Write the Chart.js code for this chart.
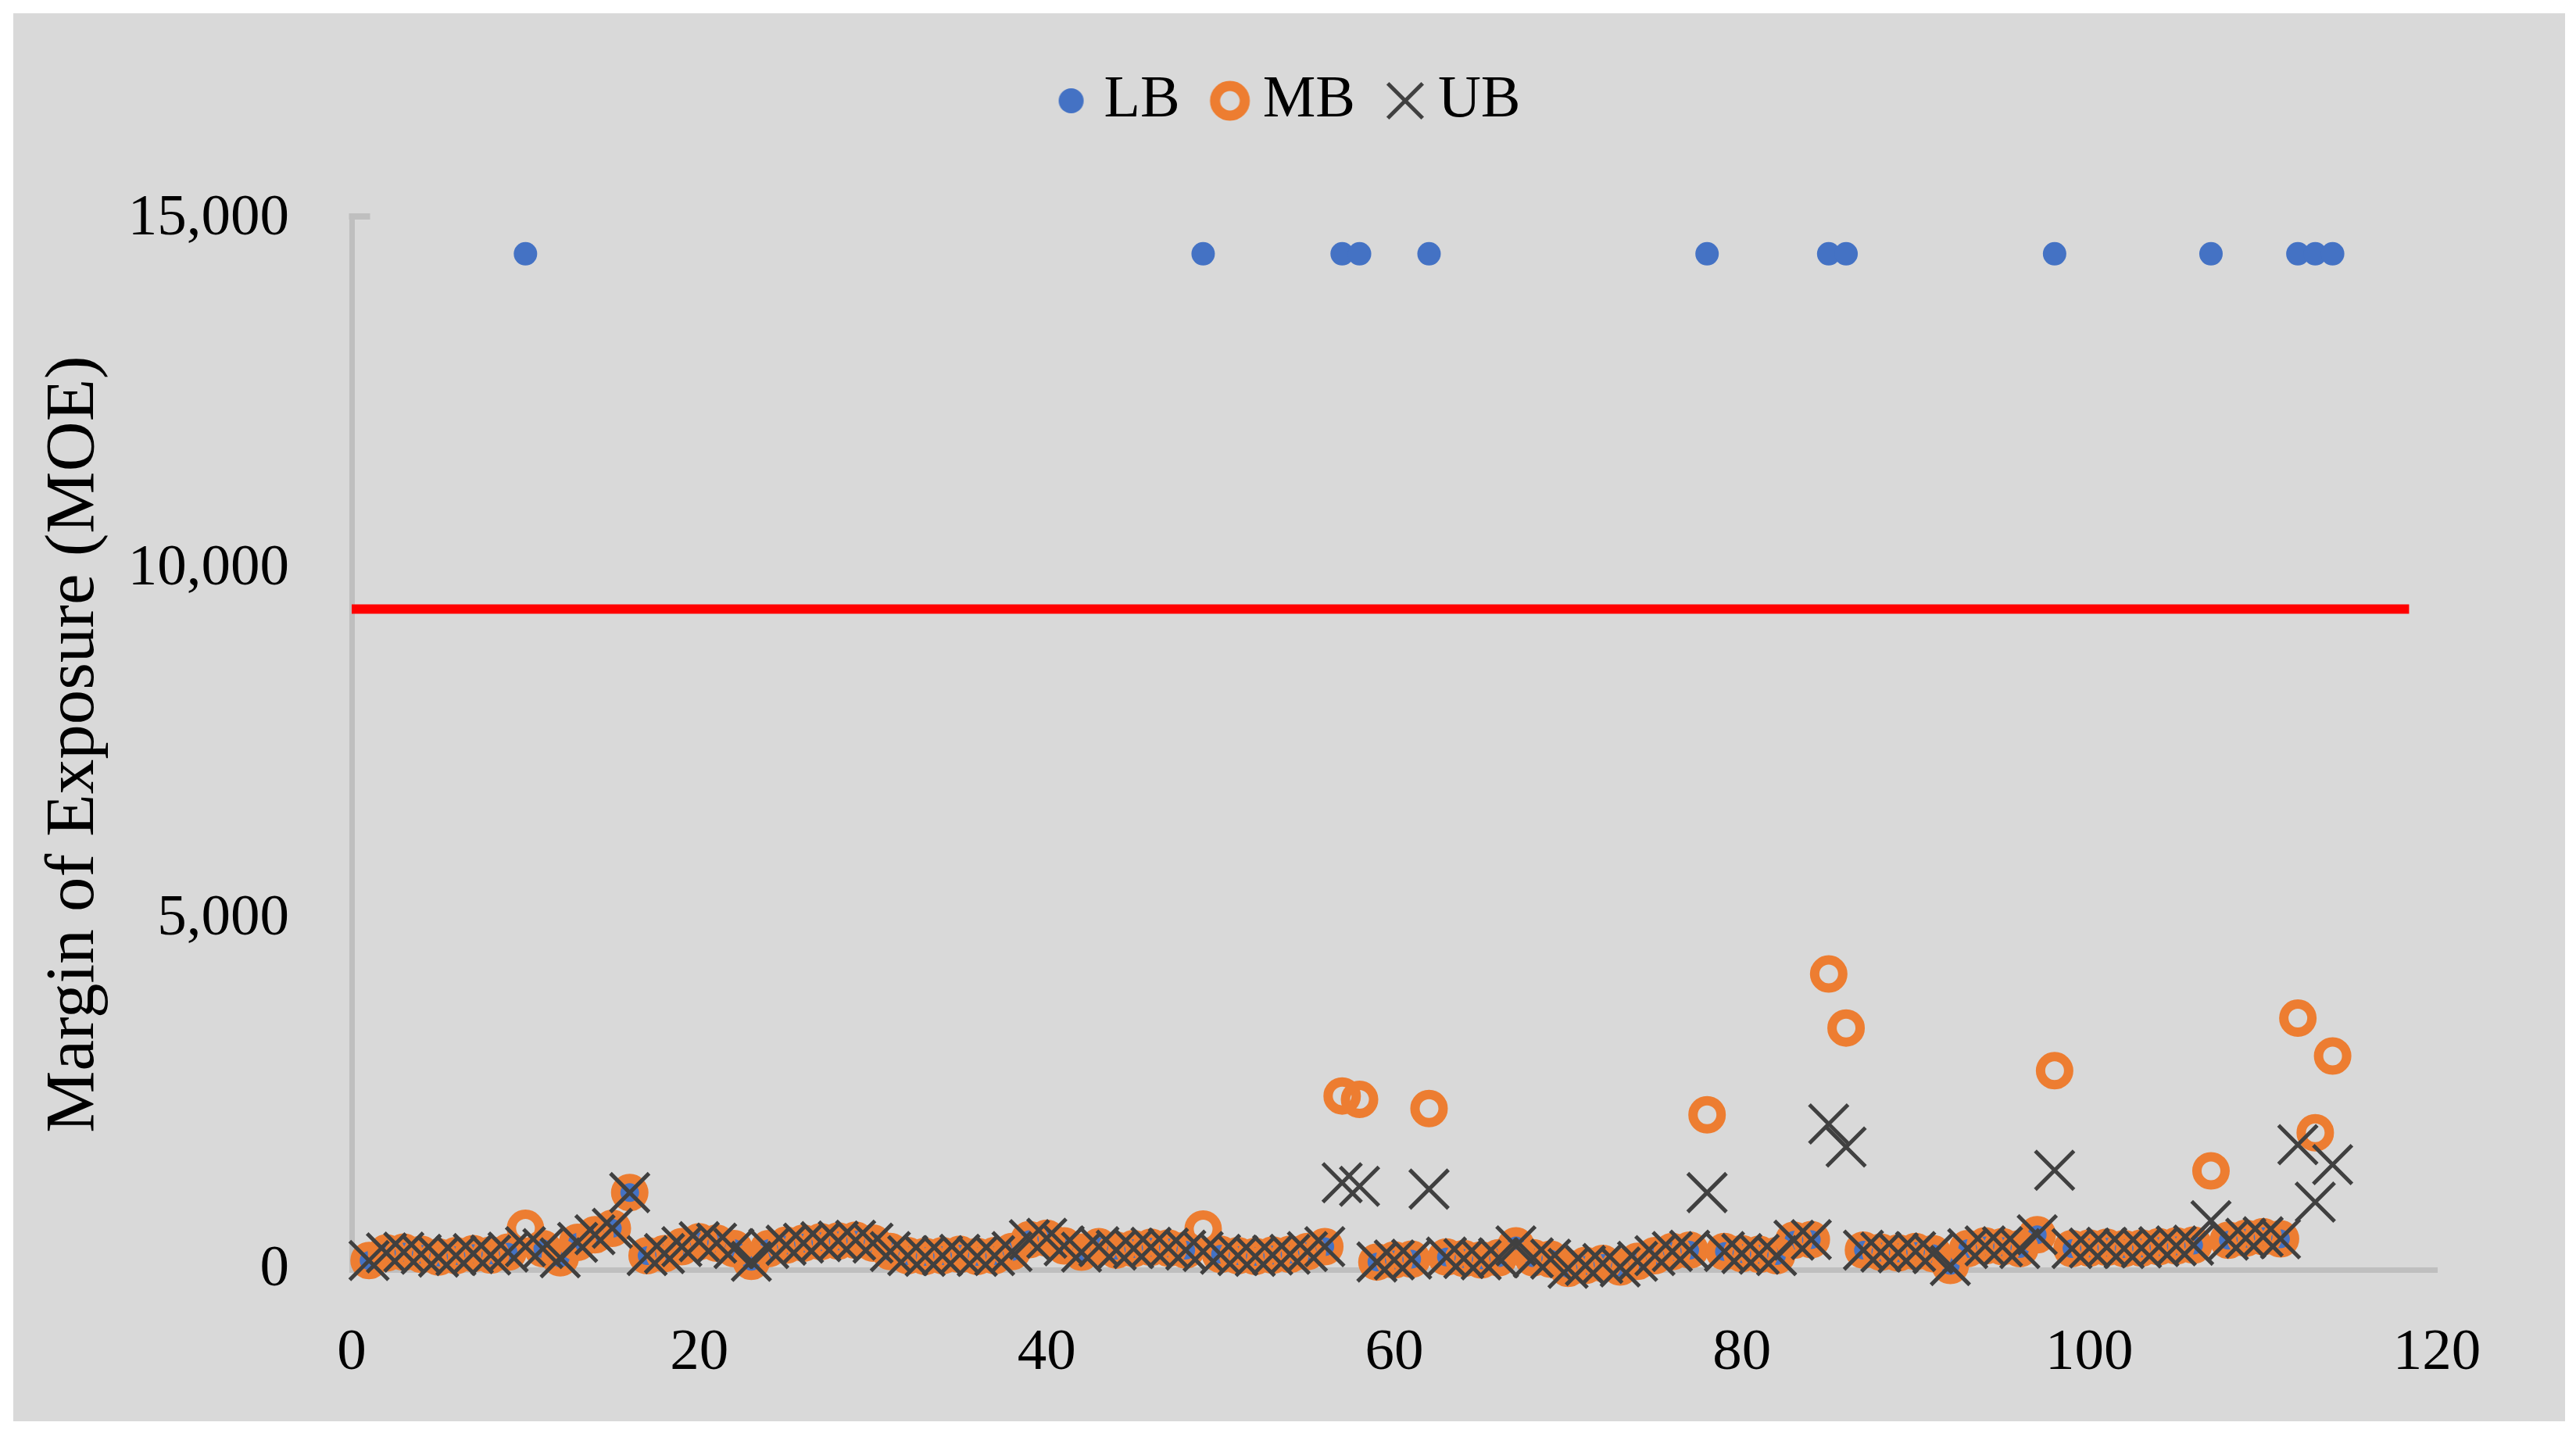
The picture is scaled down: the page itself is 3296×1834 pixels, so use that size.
<!DOCTYPE html>
<html><head><meta charset="utf-8">
<script src="https://cdn.jsdelivr.net/npm/chart.js@4.4.1/dist/chart.umd.min.js"></script>
<style>
html,body{margin:0;padding:0;background:#ffffff;overflow:hidden;}
#bg{position:absolute;left:17px;top:17px;width:3265px;height:1802px;background:#d9d9d9;}
#c{position:absolute;left:0;top:0;}
</style></head><body>
<div id="bg"></div>
<canvas id="c" width="3296" height="1834"></canvas>
<script>
// ---- data ----
const sampleIds = [1,2,3,4,5,6,7,8,9,10,11,12,13,14,15,16,17,18,19,20,21,22,23,24,25,26,27,28,29,30,31,32,33,34,35,36,37,38,39,40,41,42,43,44,45,46,47,48,49,50,51,52,53,54,55,56,57,58,59,60,61,62,63,64,65,66,67,68,69,70,71,72,73,74,75,76,77,78,79,80,81,82,83,84,85,86,87,88,89,90,91,92,93,94,95,96,97,98,99,100,101,102,103,104,105,106,107,108,109,110,111,112,113,114];
const LB = [130,240,250,220,180,200,230,210,250,14500,
  300,170,390,500,590,1100,200,230,330,400,
  380,300,120,300,350,380,400,410,420,380,
  260,200,190,200,220,190,200,260,430,450,
  340,250,330,280,300,320,310,280,14500,220,
  200,190,210,220,260,330,14500,14500,110,140,
  150,14500,180,160,140,170,340,170,150,20,
  60,90,40,120,200,260,280,14500,260,230,
  220,200,420,430,14500,14500,280,250,240,260,
  230,60,300,340,330,300,500,14500,300,310,
  320,300,310,330,340,350,14500,420,450,470,
  440,14500,14500,14500];
const MB = [130,240,250,220,180,200,230,210,250,590,
  300,170,390,500,590,1100,200,230,330,400,
  380,300,120,300,350,380,400,410,420,380,
  260,200,190,200,220,190,200,260,430,450,
  340,250,330,280,300,320,310,280,580,220,
  200,190,210,220,260,330,2480,2430,110,140,
  150,2300,180,160,140,170,340,170,150,20,
  60,90,40,120,200,260,280,2210,260,230,
  220,200,420,430,4220,3450,280,250,240,260,
  230,60,300,340,330,300,500,2840,300,310,
  320,300,310,330,340,350,1410,420,450,470,
  440,3590,1955,3050];
const UB = [130,240,250,220,180,200,230,210,250,330,
  300,170,390,500,590,1100,200,230,330,400,
  380,300,120,300,350,380,400,410,420,380,
  260,200,190,200,220,190,200,260,430,450,
  340,250,330,280,300,320,310,280,260,220,
  200,190,210,220,260,330,1240,1190,110,140,
  150,1150,180,160,140,170,340,170,150,20,
  60,90,40,120,200,260,280,1100,260,230,
  220,200,420,430,2080,1750,280,250,240,260,
  230,60,300,340,330,300,500,1420,300,310,
  320,300,310,330,340,350,700,420,450,470,
  440,1785,965,1500];
const thresholdX = [0, 118.4];
const thresholdY = [9430, 9430];
const seriesNames = ['LB', 'MB', 'UB'];
const xTickLabels = ['0', '20', '40', '60', '80', '100', '120'];
const yTickLabels = ['0', '5,000', '10,000', '15,000'];
const yAxisTitle = 'Margin of Exposure (MOE)';

// ---- styles ----
const FONT = "'Liberation Serif', 'Times New Roman', serif";
const COL_LB = '#4472c4', COL_MB = '#ed7d31', COL_UB = '#404040', COL_AXIS = '#bfbfbf';
const LB_R = 15, MB_R = 18, MB_W = 12, UB_R = 35, UB_W = 5;

function pts(xs, ys) { return xs.map((x, i) => ({x: x, y: ys[i]})); }

function makeIcon(kind) {
  const c = document.createElement('canvas');
  c.width = 64; c.height = 64;
  const g = c.getContext('2d');
  const m = 32;
  if (kind === 0) {
    g.fillStyle = COL_LB; g.beginPath(); g.arc(m, m, 16, 0, Math.PI * 2); g.fill();
  } else if (kind === 1) {
    g.strokeStyle = COL_MB; g.lineWidth = 13; g.beginPath(); g.arc(m, m, 19, 0, Math.PI * 2); g.stroke();
  } else {
    const d = UB_R * Math.SQRT1_2 * 0.9;
    g.strokeStyle = COL_UB; g.lineWidth = UB_W; g.beginPath();
    g.moveTo(m - d, m - d); g.lineTo(m + d, m + d);
    g.moveTo(m + d, m - d); g.lineTo(m - d, m + d); g.stroke();
  }
  return c;
}
const legendIcons = [makeIcon(0), makeIcon(1), makeIcon(2)];

const legendShift = {
  id: 'legendShift',
  afterLayout(chart) {
    const lg = chart.legend;
    const dx = 1656 - (lg.left + lg.right) / 2;
    lg.left += dx; lg.right += dx;
  }
};

// short inward tick at the top end of the value axis
const topTick = {
  id: 'topTick',
  beforeDatasetsDraw(chart) {
    const s = chart.scales.y;
    const y = s.getPixelForValue(s.max);
    const x = chart.chartArea.left;
    const ctx = chart.ctx;
    ctx.save();
    ctx.fillStyle = COL_AXIS;
    ctx.fillRect(x - 3.5, y - 7, 27, 8);
    ctx.restore();
  }
};

Chart.defaults.font.family = FONT;
Chart.defaults.color = '#000000';

new Chart(document.getElementById('c'), {
  type: 'scatter',
  data: {
    datasets: [
      { label: seriesNames[0], data: pts(sampleIds, LB), pointStyle: 'circle', pointRadius: LB_R,
        pointBackgroundColor: COL_LB, pointBorderWidth: 0, borderColor: COL_LB, backgroundColor: COL_LB,
        order: 3, clip: false },
      { label: seriesNames[1], data: pts(sampleIds, MB), pointStyle: 'circle', pointRadius: MB_R,
        pointBackgroundColor: 'rgba(0,0,0,0)', pointBorderColor: COL_MB, pointBorderWidth: MB_W,
        borderColor: COL_MB, backgroundColor: 'rgba(0,0,0,0)', order: 2, clip: false },
      { label: seriesNames[2], data: pts(sampleIds, UB), pointStyle: 'crossRot', pointRadius: UB_R,
        pointBorderColor: COL_UB, pointBorderWidth: UB_W, borderColor: COL_UB, backgroundColor: COL_UB,
        order: 1, clip: false },
      { label: 'threshold', data: pts(thresholdX, thresholdY), showLine: true, pointRadius: 0,
        borderColor: '#ff0000', borderWidth: 12, borderCapStyle: 'butt', order: 4, clip: false }
    ]
  },
  options: {
    responsive: false,
    devicePixelRatio: 1,
    animation: false,
    events: [],
    layout: { padding: { top: 31, left: 30, right: 178, bottom: 58 } },
    plugins: {
      tooltip: { enabled: false },
      title: { display: true, text: ' ', weight: 500, font: { size: 10 }, padding: { top: 45, bottom: 46 } },
      legend: {
        display: true,
        position: 'top',
        labels: {
          usePointStyle: true,
          boxWidth: 8,
          boxHeight: 8,
          padding: 60,
          color: '#000000',
          font: { size: 76, family: FONT },
          filter: (item) => item.datasetIndex < 3,
          sort: (a, b) => a.datasetIndex - b.datasetIndex,
          generateLabels: (chart) => {
            const items = Chart.defaults.plugins.legend.labels.generateLabels(chart);
            items.forEach(it => { if (it.datasetIndex < 3) it.pointStyle = legendIcons[it.datasetIndex]; });
            return items;
          }
        }
      }
    },
    scales: {
      x: {
        type: 'linear', min: 0, max: 120,
        grid: { display: false, drawTicks: false },
        border: { display: true, color: COL_AXIS, width: 7 },
        ticks: { stepSize: 20, padding: 62, font: { size: 75 }, color: '#000000',
          callback: (v) => xTickLabels[Math.round(v / 20)] },
        afterFit: (scale) => { scale.height = 151; }
      },
      y: {
        type: 'linear', min: 0, max: 15000,
        grid: { display: false, drawTicks: false },
        border: { display: true, color: COL_AXIS, width: 7 },
        ticks: { stepSize: 5000, padding: 80, font: { size: 75 }, color: '#000000',
          callback: (v) => yTickLabels[Math.round(v / 5000)] },
        title: { display: true, text: yAxisTitle, font: { size: 89 }, color: '#000000',
          padding: { top: 12, bottom: 0 } },
        afterFit: (scale) => { scale.width = 420; }
      }
    }
  },
  plugins: [legendShift, topTick]
});
</script>
</body></html>
